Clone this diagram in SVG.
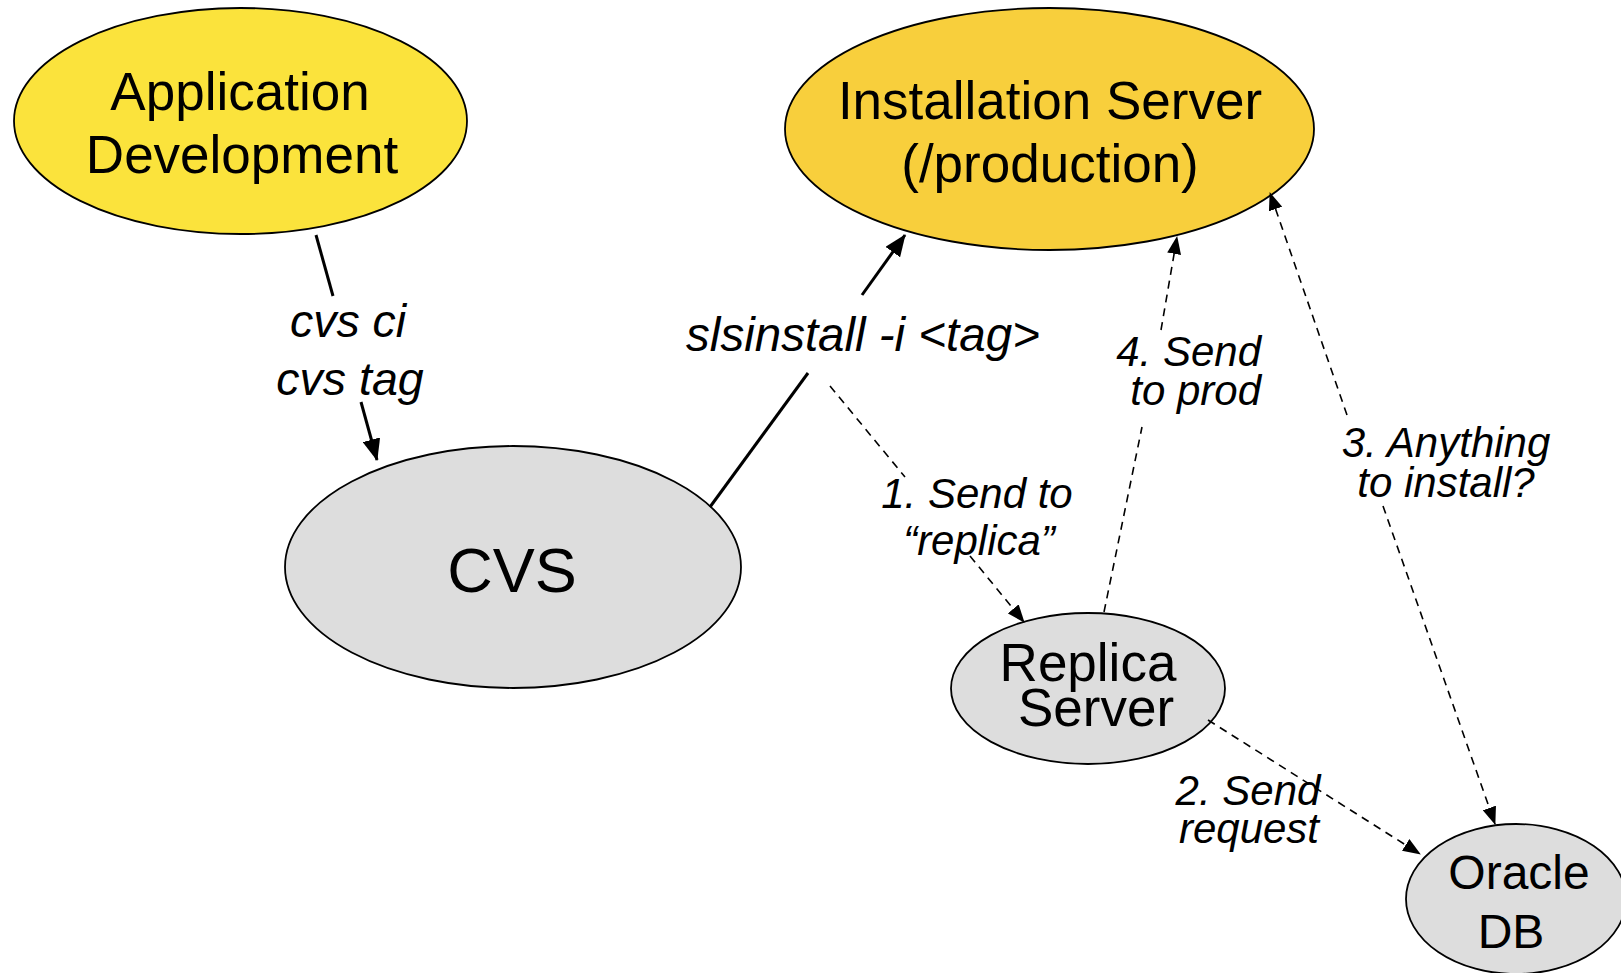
<svg xmlns="http://www.w3.org/2000/svg" width="1621" height="973" viewBox="0 0 1621 973">
<style>
.node{stroke:#000;stroke-width:1.8}
.yl{fill:#FBE33C}
.or{fill:#F8CF3C}
.gr{fill:#DDDDDD}
.t{font-family:"Liberation Sans",Arial,sans-serif;fill:#000;text-anchor:middle}
.lbl{font-family:"Liberation Sans",Arial,sans-serif;font-style:italic;fill:#000;text-anchor:middle}
.solid{stroke:#000;stroke-width:3;fill:none}
.dash{stroke:#000;stroke-width:1.6;fill:none;stroke-dasharray:8 6}
</style>
<defs>
<marker id="ah" markerUnits="userSpaceOnUse" markerWidth="22" markerHeight="18" viewBox="0 0 22 18" refX="21" refY="9" orient="auto">
<path d="M0,0 L22,9 L0,18 Z" fill="#000"/>
</marker>
<marker id="ahd" markerUnits="userSpaceOnUse" markerWidth="18" markerHeight="14" viewBox="0 0 18 14" refX="17" refY="7" orient="auto">
<path d="M0,0 L18,7 L0,14 Z" fill="#000"/>
</marker>
</defs>

<g id="app-dev">
<ellipse class="node yl" cx="240.5" cy="121" rx="226.5" ry="113"/>
<text class="t" x="240" y="110" font-size="53">Application</text>
<text class="t" x="242" y="173" font-size="53">Development</text>
</g>

<g id="install-server">
<ellipse class="node or" cx="1049.5" cy="129" rx="264.5" ry="121"/>
<text class="t" x="1050" y="119" font-size="53">Installation Server</text>
<text class="t" x="1050" y="182" font-size="53">(/production)</text>
</g>

<g id="cvs">
<ellipse class="node gr" cx="513" cy="567" rx="228" ry="121"/>
<text class="t" x="512" y="592" font-size="63">CVS</text>
</g>

<g id="replica">
<ellipse class="node gr" cx="1088" cy="688.5" rx="137" ry="75.5"/>
<text class="t" x="1088" y="681" font-size="53">Replica</text>
<text class="t" x="1096" y="726" font-size="53">Server</text>
</g>

<g id="oracle">
<ellipse class="node gr" cx="1516" cy="899" rx="110" ry="75"/>
<text class="t" x="1519" y="889" font-size="48">Oracle</text>
<text class="t" x="1511" y="948" font-size="48">DB</text>
</g>

<g id="connectors">
<line class="solid" x1="316" y1="235" x2="333" y2="296"/>
<line class="solid" x1="361" y1="402" x2="377" y2="460" marker-end="url(#ah)"/>
<text class="lbl" x="348" y="337" font-size="46.5">cvs ci</text>
<text class="lbl" x="350" y="395" font-size="46.5">cvs tag</text>

<line class="solid" x1="710" y1="507" x2="808" y2="373"/>
<line class="solid" x1="862" y1="295" x2="905" y2="235" marker-end="url(#ah)"/>
<text class="lbl" x="863" y="351" font-size="47.5">slsinstall -i &lt;tag&gt;</text>

<line class="dash" x1="830" y1="386" x2="905" y2="477"/>
<line class="dash" x1="970" y1="556" x2="1024" y2="622" marker-end="url(#ahd)"/>
<text class="lbl" x="977" y="508" font-size="42">1. Send to</text>
<text class="lbl" x="979" y="555" font-size="42">“replica”</text>

<line class="dash" x1="1208" y1="720" x2="1420" y2="854" marker-end="url(#ahd)"/>
<text class="lbl" x="1248" y="805" font-size="42">2. Send</text>
<text class="lbl" x="1249" y="843" font-size="42">request</text>

<line class="dash" x1="1383" y1="506" x2="1495" y2="824" marker-end="url(#ahd)"/>
<line class="dash" x1="1347" y1="415" x2="1270" y2="193" marker-end="url(#ahd)"/>
<text class="lbl" x="1446" y="457" font-size="42">3. Anything</text>
<text class="lbl" x="1446" y="497" font-size="42">to install?</text>

<line class="dash" x1="1104" y1="612" x2="1142" y2="427"/>
<line class="dash" x1="1161" y1="330" x2="1177" y2="237" marker-end="url(#ahd)"/>
<text class="lbl" x="1261" y="366" font-size="42" style="text-anchor:end">4. Send</text>
<text class="lbl" x="1261" y="405" font-size="42" style="text-anchor:end">to prod</text>
</g>
</svg>
